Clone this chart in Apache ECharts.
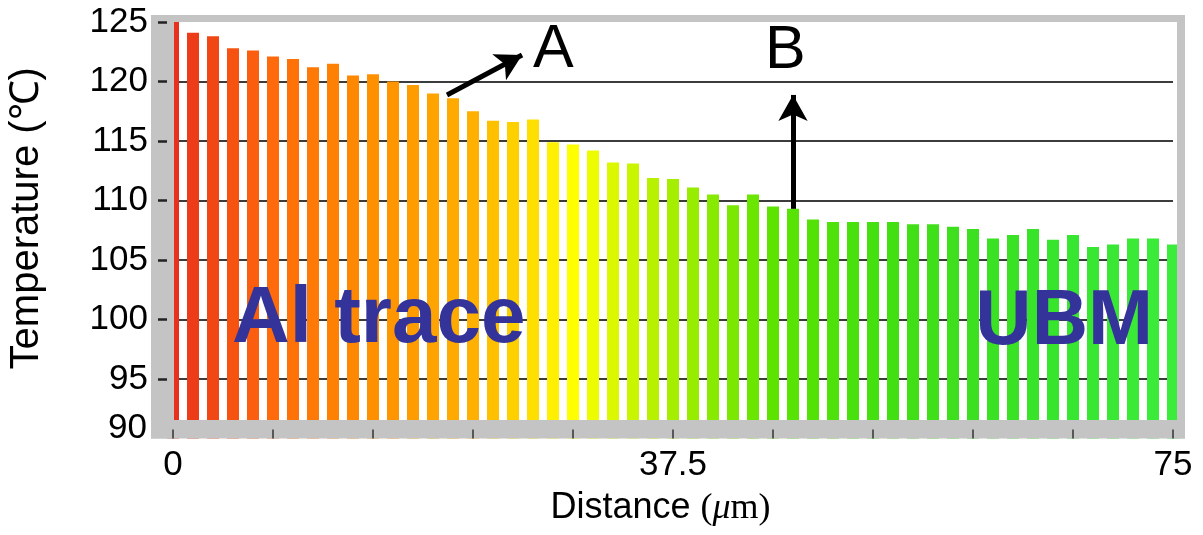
<!DOCTYPE html>
<html>
<head>
<meta charset="utf-8">
<script src="https://cdn.jsdelivr.net/npm/echarts@6/dist/echarts.min.js"></script>
<style>
  html, body { margin: 0; padding: 0; background: #fff; }
  #chart { width: 1203px; height: 535px; }
</style>
</head>
<body>
<div id="chart"></div>
<script>
// distance along the trace (um) and temperature of each bar (C)
const distance = [0, 1.5, 3, 4.5, 6, 7.5, 9, 10.5, 12, 13.5, 15, 16.5, 18, 19.5, 21, 22.5, 24, 25.5, 27, 28.5,
  30, 31.5, 33, 34.5, 36, 37.5, 39, 40.5, 42, 43.5, 45, 46.5, 48, 49.5, 51, 52.5, 54, 55.5, 57, 58.5,
  60, 61.5, 63, 64.5, 66, 67.5, 69, 70.5, 72, 73.5, 75];
const temperature = [125, 124.1, 123.8, 122.8, 122.6, 122.1, 121.9, 121.2, 121.5, 120.5, 120.6, 120.0, 119.7, 119.0, 118.6, 117.5, 116.7, 116.6, 116.8, 114.9,
  114.7, 114.2, 113.2, 113.1, 111.9, 111.8, 111.1, 110.5, 109.6, 110.5, 109.5, 109.3, 108.4, 108.2, 108.2, 108.2, 108.2, 108.0, 108.0, 107.8,
  107.6, 106.8, 107.1, 107.6, 106.7, 107.1, 106.1, 106.3, 106.8, 106.8, 106.3];
const xTickLabels = [0, 37.5, 75];

// colour ramp along the distance (red -> yellow -> green)
const ramp = ['#e8301c', '#ff6a0a', '#ff9000', '#ffb000', '#ffff00', '#a6ee00',
  '#5ce400', '#44e010', '#3ce020', '#36e630', '#3cec3c'];

const gray = '#c4c4c4';
const sans = '"Liberation Sans", Arial, sans-serif';

const chart = echarts.init(document.getElementById('chart'));

const options = {
  animation: false,
  backgroundColor: '#fff',
  grid: {
    left: 173,
    right: 30,
    top: 22,
    bottom: 96.5,
    outerBoundsMode: 'none',
  },
  visualMap: {
    show: false,
    type: 'continuous',
    dimension: 0,
    seriesIndex: 0,
    min: 0,
    max: 75,
    inRange: { color: ramp },
  },
  xAxis: {
    type: 'value',
    min: 0,
    max: 75,
    interval: 7.5,
    z: 10,
    name: '{a|Distance }{b|(}{c|μ}{b|m)}',
    nameLocation: 'middle',
    nameGap: 52,
    nameTextStyle: {
      padding: [0, 25, 0, 0],
      rich: {
        a: { fontFamily: sans, fontSize: 36, color: '#000' },
        b: { fontFamily: '"Liberation Serif", serif', fontSize: 36, color: '#000' },
        c: { fontFamily: '"Liberation Serif", serif', fontStyle: 'italic', fontSize: 36, color: '#000' },
      },
    },
    axisLine: { show: false },
    axisTick: { show: true, inside: true, length: 9, lineStyle: { color: '#333', width: 1.5 } },
    splitLine: { show: false },
    axisLabel: {
      margin: 9,
      fontFamily: sans,
      fontSize: 35,
      color: '#000',
      formatter: (v) => (xTickLabels.includes(v) ? String(v) : ''),
    },
  },
  yAxis: [
    {
      // gridlines behind the bars
      type: 'value',
      position: 'left',
      min: 90,
      max: 125,
      interval: 5,
      z: 0,
      axisLine: { show: false },
      axisTick: { show: false },
      axisLabel: { show: false },
      splitLine: {
        show: true,
        showMinLine: false,
        showMaxLine: false,
        lineStyle: { color: '#3c3c3c', width: 2 },
      },
    },
    {
      // ticks, labels and title drawn over the grey wall
      type: 'value',
      position: 'left',
      min: 90,
      max: 125,
      interval: 5,
      offset: 6,
      z: 10,
      name: 'Temperature (℃)',
      nameLocation: 'middle',
      nameGap: 120,
      nameTextStyle: { fontFamily: sans, fontSize: 40, color: '#000', padding: [0, 0, 0, 24] },
      axisLine: { show: false },
      axisTick: { show: true, length: 9, lineStyle: { color: '#222', width: 2.5 } },
      axisLabel: { margin: 19, fontFamily: sans, fontSize: 35, color: '#000', showMinLabel: false },
      splitLine: { show: false },
    },
  ],
  series: [{
    type: 'bar',
    yAxisIndex: 0,
    barWidth: 12,
    clip: true,
    data: distance.map((d, i) => [d, temperature[i]]),
    markLine: {
      silent: true,
      symbol: ['none', 'arrow'],
      symbolSize: [22, 26],
      label: { show: false },
      lineStyle: { color: '#000', width: 5, type: 'solid' },
      data: [
        [{ coord: [20.55, 118.87] }, { coord: [26.18, 122.23] }],
        [{ coord: [46.5, 109.3] }, { coord: [46.5, 118.87] }],
      ],
    },
  }],
  graphic: [
    // frame: left wall, top, right, floor
    { id: 'wall', type: 'rect', z: 5, shape: { x: 151, y: 15, width: 23, height: 423.5 }, style: { fill: gray } },
    { id: 'top', type: 'rect', z: 5, shape: { x: 151, y: 15, width: 1034, height: 7 }, style: { fill: gray } },
    { id: 'right', type: 'rect', z: 5, shape: { x: 1177, y: 15, width: 8, height: 423.5 }, style: { fill: gray } },
    { id: 'floor', type: 'rect', z: 5, shape: { x: 151, y: 420, width: 1034, height: 18.5 }, style: { fill: gray } },
    { id: 'min', type: 'text', z: 11, x: 147, y: 428,
      style: { text: '90', font: '35px ' + sans, fill: '#000', align: 'right', verticalAlign: 'middle' } },
    { id: 'la', type: 'text', z: 11, x: 533, y: 50,
      style: { text: 'A', font: '61px ' + sans, fill: '#000', align: 'left', verticalAlign: 'middle' } },
    { id: 'lb', type: 'text', z: 11, x: 765, y: 51,
      style: { text: 'B', font: '61px ' + sans, fill: '#000', align: 'left', verticalAlign: 'middle' } },
    { id: 'al', type: 'text', z: 11, x: 232, y: 320,
      style: { text: 'Al trace', font: 'bold 80px ' + sans, fill: '#333399', align: 'left', verticalAlign: 'middle' } },
    { id: 'ubm', type: 'text', z: 11, x: 1153, y: 322,
      style: { text: 'UBM', font: 'bold 78px ' + sans, fill: '#333399', align: 'right', verticalAlign: 'middle' } },
  ],
};

chart.setOption(options);
</script>
</body>
</html>
